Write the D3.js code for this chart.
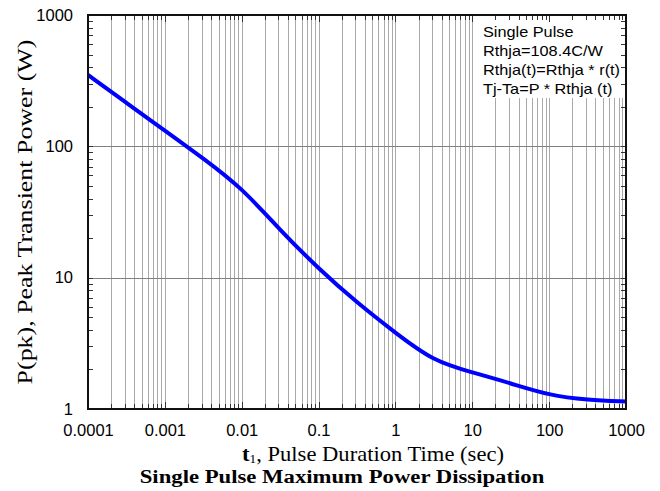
<!DOCTYPE html>
<html>
<head>
<meta charset="utf-8">
<script src="https://cdn.jsdelivr.net/npm/d3@7"></script>
<style>
  html, body { margin: 0; padding: 0; background: #fff; }
  svg { display: block; }
</style>
</head>
<body>
<svg id="chart" width="660" height="491"></svg>
<script>
// Pulse duration (s) and peak transient power (W) along the single-pulse curve
const pulseTime = [0.0001, 0.000316, 0.001, 0.00316, 0.01, 0.0316, 0.1, 0.316,
                   1, 3.16, 10, 31.6, 100, 316, 1000];
const peakPower = [350, 214, 132, 81, 48.4, 23, 11.7, 6.45,
                   3.8, 2.3, 1.9, 1.57, 1.27, 1.17, 1.14];

const xTickValues = [0.0001, 0.001, 0.01, 0.1, 1, 10, 100, 1000];
const xTickLabels = ["0.0001", "0.001", "0.01", "0.1", "1", "10", "100", "1000"];
const yTickValues = [1, 10, 100, 1000];
const yTickLabels = ["1", "10", "100", "1000"];

const noteLines = ["Single Pulse", "Rthja=108.4C/W", "Rthja(t)=Rthja * r(t)", "Tj-Ta=P * Rthja (t)"];

const margin = { left: 88, top: 15, right: 34, bottom: 82 };
const W = 660, H = 491;
const iw = W - margin.left - margin.right;
const ih = H - margin.top - margin.bottom;

const svg = d3.select("#chart");
const g = svg.append("g").attr("transform", `translate(${margin.left},${margin.top})`);

const x = d3.scaleLog().domain([0.0001, 1000]).range([0, iw]);
const y = d3.scaleLog().domain([1, 1000]).range([ih, 0]);

// stretch a text element horizontally so it spans the given width
function fitWidth(sel, width) {
  const w = sel.node().getComputedTextLength();
  return width / w;
}

// minor positions (1..9 per decade)
const xMinor = [];
for (let e = -4; e < 3; e++) for (let m = 1; m <= 9; m++) xMinor.push(m * Math.pow(10, e));
xMinor.push(1000);
const yMinor = [];
for (let e = 0; e < 3; e++) for (let m = 1; m <= 9; m++) yMinor.push(m * Math.pow(10, e));
yMinor.push(1000);

// vertical grid at every minor value
g.append("g").selectAll("line").data(xMinor.filter(v => v > 0.0001 && v < 1000)).join("line")
  .attr("x1", d => Math.round(x(d)) + 0.5).attr("x2", d => Math.round(x(d)) + 0.5)
  .attr("y1", 0).attr("y2", ih)
  .attr("stroke", "#a9a9a9").attr("stroke-width", 1);

// horizontal grid at decades
g.append("g").selectAll("line").data([10, 100]).join("line")
  .attr("x1", 0).attr("x2", iw)
  .attr("y1", d => Math.round(y(d)) + 0.5).attr("y2", d => Math.round(y(d)) + 0.5)
  .attr("stroke", "#808080").attr("stroke-width", 1.2);

// note box
const box = g.append("g");
box.append("rect").attr("x", 385).attr("y", 1).attr("width", iw - 386).attr("height", 82)
  .attr("fill", "#fff");
const notes = box.append("g").attr("transform", "translate(395,0)");
const noteText = notes.selectAll("text").data(noteLines).join("text")
  .attr("x", 0).attr("y", (d, i) => 22 + i * 19)
  .attr("font-family", "Liberation Sans, Arial, sans-serif")
  .attr("font-size", 14.2).attr("fill", "#000")
  .text(d => d);
const noteScale = 137 / noteText.nodes()[2].getComputedTextLength();
notes.attr("transform", `translate(395,0) scale(${noteScale},1)`);

// inner minor ticks
const tickLen = 5;
const ticks = g.append("g").attr("stroke", "#333").attr("stroke-width", 1);
const inner = xMinor.filter(v => v > 0.0001 && v < 1000);
ticks.selectAll(".tb").data(inner).join("line")
  .attr("x1", d => Math.round(x(d)) + 0.5).attr("x2", d => Math.round(x(d)) + 0.5)
  .attr("y1", ih).attr("y2", d => ih - (xTickValues.includes(d) ? 7 : tickLen));
ticks.selectAll(".tt").data(inner).join("line")
  .attr("x1", d => Math.round(x(d)) + 0.5).attr("x2", d => Math.round(x(d)) + 0.5)
  .attr("y1", 0).attr("y2", d => (xTickValues.includes(d) ? 7 : tickLen));
const yin = yMinor.filter(v => v > 1 && v < 1000);
ticks.selectAll(".tl").data(yin).join("line")
  .attr("y1", d => Math.round(y(d)) + 0.5).attr("y2", d => Math.round(y(d)) + 0.5)
  .attr("x1", 0).attr("x2", tickLen);
ticks.selectAll(".tr").data(yin).join("line")
  .attr("y1", d => Math.round(y(d)) + 0.5).attr("y2", d => Math.round(y(d)) + 0.5)
  .attr("x1", iw).attr("x2", iw - tickLen);

// curve
const line = d3.line().x((d, i) => x(pulseTime[i])).y(d => y(d)).curve(d3.curveBasis);
g.append("path").datum(peakPower)
  .attr("d", line)
  .attr("fill", "none").attr("stroke", "#0000ff").attr("stroke-width", 4)
  .attr("stroke-linejoin", "round");

// frame
g.append("rect").attr("x", 0).attr("y", 0).attr("width", iw).attr("height", ih)
  .attr("fill", "none").attr("stroke", "#111").attr("stroke-width", 2);

// axes labels via d3 axes (lines hidden, labels only)
const xAxis = d3.axisBottom(x).tickValues(xTickValues)
  .tickFormat((d, i) => xTickLabels[i]).tickSize(0).tickPadding(15);
const xa = g.append("g").attr("transform", `translate(0,${ih})`).call(xAxis);
xa.select(".domain").remove();
xa.selectAll("text").attr("font-family", "Liberation Sans, Arial, sans-serif")
  .attr("font-size", 16.5).attr("fill", "#000");

const yAxis = d3.axisLeft(y).tickValues(yTickValues)
  .tickFormat((d, i) => yTickLabels[i]).tickSize(0).tickPadding(15);
const ya = g.append("g").call(yAxis);
ya.select(".domain").remove();
ya.selectAll("text").attr("font-family", "Liberation Sans, Arial, sans-serif")
  .attr("font-size", 16.5).attr("fill", "#000");

// axis titles
const serif = "Liberation Serif, Times New Roman, serif";
const yl = svg.append("g");
const ylText = yl.append("text")
  .attr("text-anchor", "middle")
  .attr("font-family", serif).attr("font-size", 21).attr("fill", "#000")
  .text("P(pk), Peak Transient Power (W)");
yl.attr("transform", `translate(32,${margin.top + ih / 2}) rotate(-90) scale(${fitWidth(ylText, 345)},1)`);

const xg = svg.append("g");
const xt = xg.append("text")
  .attr("x", 0).attr("y", 0)
  .attr("text-anchor", "middle")
  .attr("font-family", serif).attr("font-size", 20.5).attr("fill", "#000");
xt.append("tspan").attr("font-weight", "bold").text("t");
xt.append("tspan").attr("font-size", 12).attr("dy", 2).text("1");
xt.append("tspan").attr("dy", -2).text(", Pulse Duration Time (sec)");
xg.attr("transform", `translate(373,461) scale(${262 / xt.node().getBBox().width},1)`);

const tg = svg.append("g");
const tt = tg.append("text")
  .attr("text-anchor", "middle")
  .attr("font-family", serif).attr("font-size", 19.5).attr("font-weight", "bold").attr("fill", "#000")
  .text("Single Pulse Maximum Power Dissipation");
tg.attr("transform", `translate(342,482.5) scale(${fitWidth(tt, 405)},1)`);
</script>
</body>
</html>
